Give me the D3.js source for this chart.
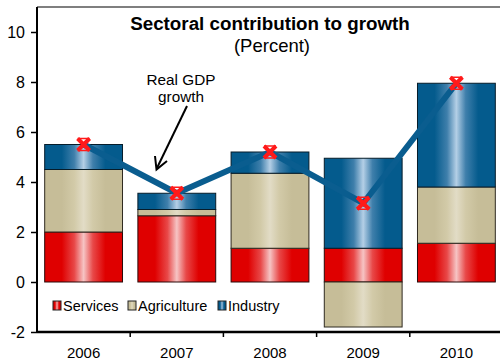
<!DOCTYPE html>
<html>
<head>
<meta charset="utf-8">
<script src="https://cdn.jsdelivr.net/npm/d3@7"></script>
<style>
  html, body { margin: 0; padding: 0; background: #fff; }
  svg { display: block; font-family: "Liberation Sans", Arial, sans-serif; }
</style>
</head>
<body>
<svg id="chart" width="500" height="363"></svg>
<script>
// Sectoral contributions to real GDP growth (percentage points)
const years = ["2006", "2007", "2008", "2009", "2010"];
const services = [2.0, 2.65, 1.35, 1.35, 1.55];
const agriculture = [2.5, 0.25, 3.0, -1.8, 2.25];
const industry = [1.0, 0.65, 0.85, 3.6, 4.15];
const gdpGrowth = [5.5, 3.55, 5.2, 3.15, 7.95];
const yTicks = [-2, 0, 2, 4, 6, 8, 10];
const seriesNames = ["Services", "Agriculture", "Industry"];

const svg = d3.select("#chart");
const W = 500, H = 363;
const plot = { left: 37, right: 503, top: 7, bottom: 332 };

const x = d3.scaleBand().domain(years).range([plot.left, plot.right]).paddingInner(0.165).paddingOuter(0.0825);
const xb = d3.scaleBand().domain(years).range([plot.left, plot.right]);
const y = d3.scaleLinear().domain([-2, 11]).range([plot.bottom, plot.top]);

// Horizontal "cylinder" gradients for each sector
const palette = {
  Services:    { dark: "#df0000", mid: "#e84848", light: "#f6c4c4", stroke: "#2a0a0a" },
  Agriculture: { dark: "#c6bd98", mid: "#d2caa8", light: "#e2dcc6", stroke: "#2f2a20" },
  Industry:    { dark: "#045b8d", mid: "#3f7fab", light: "#b4cfe6", stroke: "#061c2a" }
};
const defs = svg.append("defs");
Object.entries(palette).forEach(([name, c]) => {
  const g = defs.append("linearGradient").attr("id", "grad-" + name)
    .attr("x1", "0%").attr("x2", "100%").attr("y1", "0%").attr("y2", "0%");
  [[0, c.dark], [0.22, c.dark], [0.38, c.mid], [0.5, c.light], [0.62, c.mid], [0.78, c.dark], [1, c.dark]]
    .forEach(([o, col]) => g.append("stop").attr("offset", o).attr("stop-color", col));
});

// Stacked data (positive up, negative down)
const rows = years.map((yr, i) => ({ year: yr, Services: services[i], Agriculture: agriculture[i], Industry: industry[i] }));
const stacked = d3.stack().keys(seriesNames).offset(d3.stackOffsetDiverging)(rows);

// Plot frame top line
svg.append("line").attr("x1", plot.left).attr("x2", W).attr("y1", plot.top).attr("y2", plot.top)
  .attr("stroke", "#555").attr("stroke-width", 1.5);

// Bars
stacked.forEach(layer => {
  const name = layer.key;
  svg.append("g").selectAll("rect").data(layer).join("rect")
    .attr("x", d => x(d.data.year))
    .attr("width", x.bandwidth())
    .attr("y", d => y(Math.max(d[0], d[1])))
    .attr("height", d => Math.abs(y(d[0]) - y(d[1])))
    .attr("fill", "url(#grad-" + name + ")")
    .attr("stroke", d => d[1] < 0 ? "#8c8672" : palette[name].stroke)
    .attr("stroke-width", 1);
});

// Y axis
const yAxis = d3.axisLeft(y).tickValues(yTicks).tickSize(6).tickPadding(6).tickFormat(d => String(d));
const gy = svg.append("g").attr("transform", `translate(${plot.left},0)`).call(yAxis);
gy.select(".domain").attr("d", `M0,${plot.top}V${plot.bottom}`).attr("stroke", "#000").attr("stroke-width", 2);
gy.selectAll(".tick line").attr("stroke", "#000").attr("stroke-width", 1.5);
gy.selectAll(".tick text").attr("font-size", 16).attr("fill", "#000").attr("font-family", "Liberation Sans, Arial, sans-serif");

// X axis: ticks at category boundaries
svg.append("line").attr("x1", plot.left).attr("x2", W).attr("y1", plot.bottom).attr("y2", plot.bottom)
  .attr("stroke", "#000").attr("stroke-width", 2.5);
svg.append("g").selectAll("line").data(years.slice(1)).join("line")
  .attr("x1", d => xb(d)).attr("x2", d => xb(d))
  .attr("y1", plot.bottom).attr("y2", plot.bottom + 5)
  .attr("stroke", "#000").attr("stroke-width", 1.5);
svg.append("g").selectAll("text").data(years).join("text")
  .attr("x", d => xb(d) + xb.bandwidth() / 2)
  .attr("y", 357.5)
  .attr("text-anchor", "middle")
  .attr("font-size", 15)
  .attr("fill", "#000")
  .text(d => d);

// Real GDP growth line
const cx = d => x(d) + x.bandwidth() / 2;
const line = d3.line().x((d, i) => cx(years[i])).y(d => y(d));
svg.append("path").datum(gdpGrowth).attr("d", line)
  .attr("fill", "none").attr("stroke", "#0a5d8f").attr("stroke-width", 6).attr("stroke-linejoin", "miter");

// Red cross markers
const mk = svg.append("g").selectAll("g").data(gdpGrowth).join("g")
  .attr("transform", (d, i) => `translate(${cx(years[i])},${y(d)})`);
mk.append("path").attr("d", "M-6,-6L6,6M6,-6L-6,6")
  .attr("stroke", "#ff1a1a").attr("stroke-width", 4).attr("fill", "none");
mk.append("path").attr("d", "M-6,-6H6M-6,6H6")
  .attr("stroke", "#ff1a1a").attr("stroke-width", 1.5).attr("fill", "none");

// Title
svg.append("text").attr("x", 270).attr("y", 30).attr("text-anchor", "middle")
  .attr("font-size", 18.8).attr("font-weight", "bold").attr("fill", "#000")
  .text("Sectoral contribution to growth");
svg.append("text").attr("x", 272).attr("y", 52).attr("text-anchor", "middle")
  .attr("font-size", 18.5).attr("fill", "#000")
  .text("(Percent)");

// Annotation
svg.append("text").attr("x", 181).attr("y", 85).attr("text-anchor", "middle")
  .attr("font-size", 15.3).attr("fill", "#000").text("Real GDP");
svg.append("text").attr("x", 181).attr("y", 102).attr("text-anchor", "middle")
  .attr("font-size", 15.3).attr("fill", "#000").text("growth");
svg.append("line").attr("x1", 187).attr("y1", 106).attr("x2", 157).attr("y2", 168)
  .attr("stroke", "#000").attr("stroke-width", 2);
svg.append("path").attr("d", "M155,156 L156.5,169.5 L167,161")
  .attr("fill", "none").attr("stroke", "#000").attr("stroke-width", 2);

// Legend
const legendX = [53, 128, 218];
const lg = svg.append("g").selectAll("g").data(seriesNames).join("g")
  .attr("transform", (d, i) => `translate(${legendX[i]},301)`);
lg.append("rect").attr("width", 8).attr("height", 9)
  .attr("fill", d => "url(#grad-" + d + ")").attr("stroke", "#222").attr("stroke-width", 1);
lg.append("text").attr("x", 10).attr("y", 10).attr("font-size", 14.5).attr("fill", "#000").text(d => d);
</script>
</body>
</html>
